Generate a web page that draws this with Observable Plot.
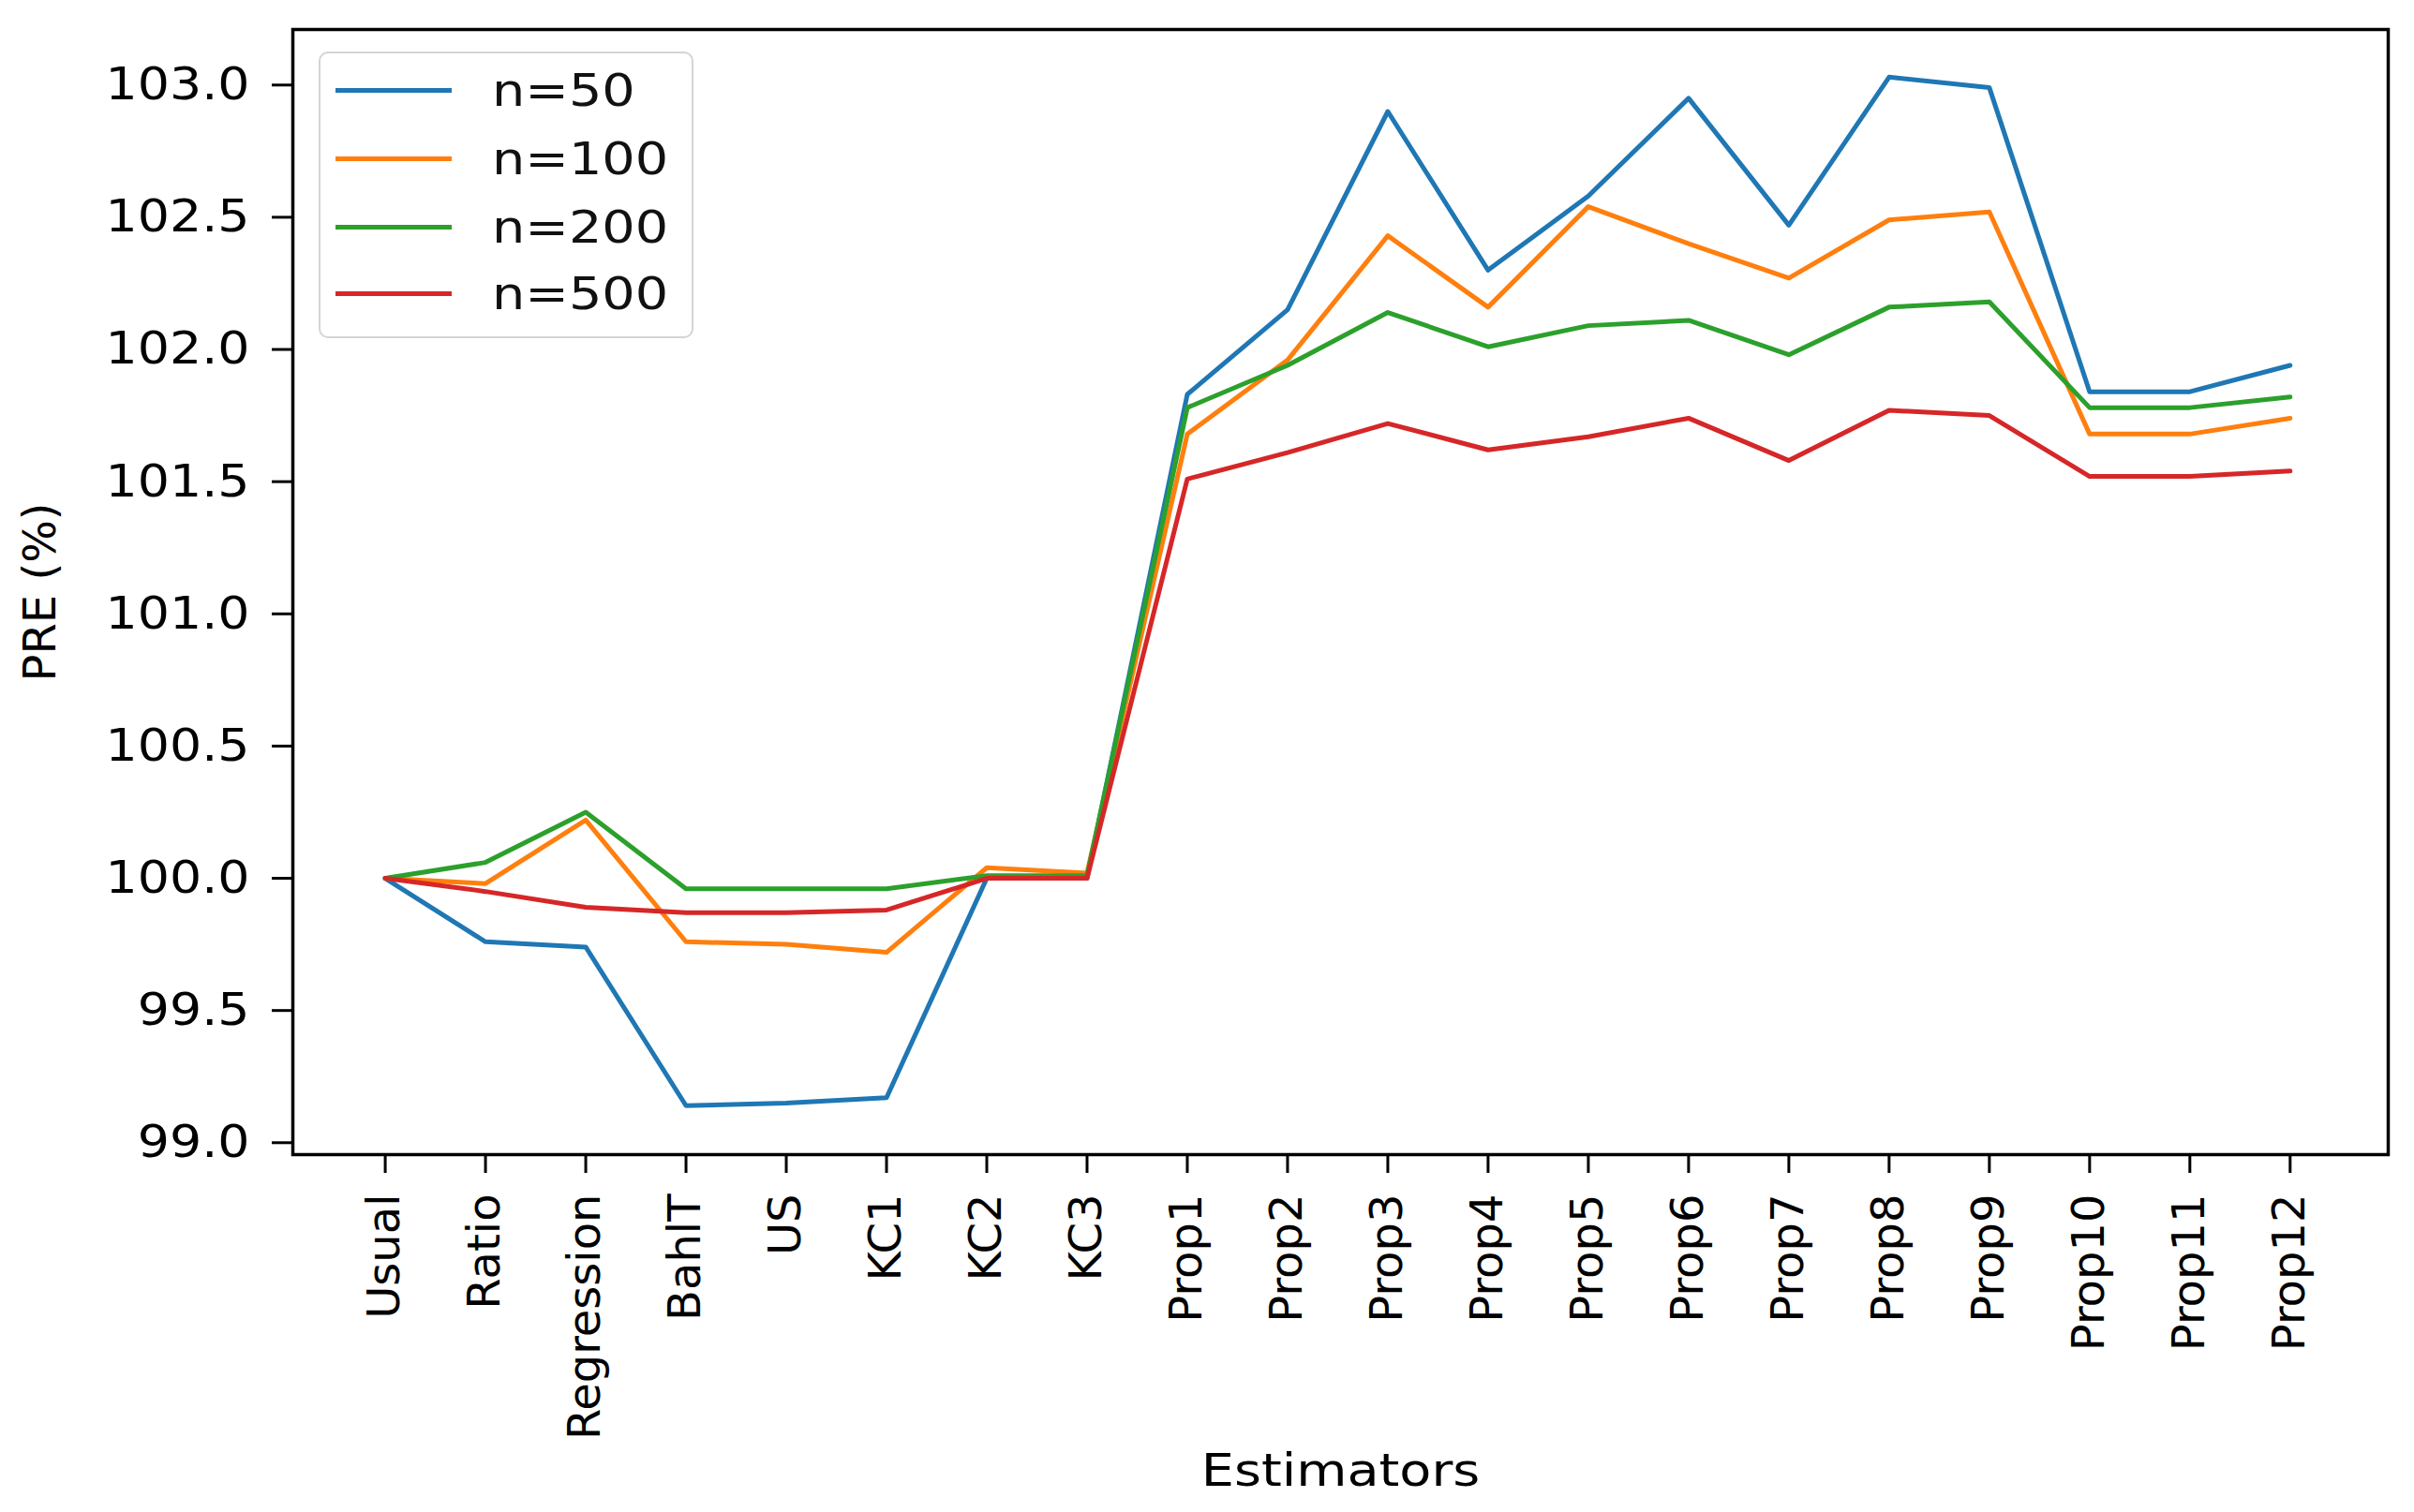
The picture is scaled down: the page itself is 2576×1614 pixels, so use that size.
<!DOCTYPE html>
<html>
<head>
<meta charset="utf-8">
<script src="https://cdn.jsdelivr.net/npm/d3@7"></script>
<script src="https://cdn.jsdelivr.net/npm/@observablehq/plot@0.6"></script>
<style>
  html, body { margin: 0; padding: 0; background: white; }
  #wrap { position: relative; width: 2576px; height: 1614px; }
  #legend {
    position: absolute; left: 340px; top: 55px; width: 396px; height: 302px;
    border: 2.5px solid #d4d4d4; border-radius: 10px; background: rgba(255,255,255,0.8);
    font-family: "DejaVu Sans", sans-serif; font-size: 48px; color: #111;
  }
  .sw { position: absolute; left: 16px; width: 124px; height: 5px; }
  .lab { position: absolute; left: 183px; white-space: nowrap; line-height: 60px;
         transform: scaleX(1.16); transform-origin: left center; }
</style>
</head>
<body>
<div id="wrap"><div id="legend"></div></div>
<script>
const estimators = ["Usual","Ratio","Regression","BahlT","US","KC1","KC2","KC3",
  "Prop1","Prop2","Prop3","Prop4","Prop5","Prop6","Prop7","Prop8","Prop9","Prop10","Prop11","Prop12"];
const seriesLabels = ["n=50","n=100","n=200","n=500"];
const seriesColors = ["#1f77b4","#ff7f0e","#2ca02c","#d62728"];
const n50  = [100.00, 99.76, 99.74, 99.14, 99.15, 99.17, 100.00, 100.00, 101.83, 102.15, 102.90, 102.30, 102.58, 102.95, 102.47, 103.03, 102.99, 101.84, 101.84, 101.94];
const n100 = [100.00, 99.98, 100.22, 99.76, 99.75, 99.72, 100.04, 100.02, 101.68, 101.96, 102.43, 102.16, 102.54, 102.40, 102.27, 102.49, 102.52, 101.68, 101.68, 101.74];
const n200 = [100.00, 100.06, 100.25, 99.96, 99.96, 99.96, 100.01, 100.01, 101.78, 101.94, 102.14, 102.01, 102.09, 102.11, 101.98, 102.16, 102.18, 101.78, 101.78, 101.82];
const n500 = [100.00, 99.95, 99.89, 99.87, 99.87, 99.88, 100.00, 100.00, 101.51, 101.61, 101.72, 101.62, 101.67, 101.74, 101.58, 101.77, 101.75, 101.52, 101.52, 101.54];
const yTicks = [99.0, 99.5, 100.0, 100.5, 101.0, 101.5, 102.0, 102.5, 103.0];

const allSeries = [n50, n100, n200, n500];
const rows = allSeries.flatMap((vals, s) =>
  estimators.map((e, i) => ({estimator: e, pre: vals[i], n: seriesLabels[s]})));

const chart = Plot.plot({
  width: 2576, height: 1614,
  marginLeft: 312, marginRight: 28, marginTop: 31, marginBottom: 382,
  style: {fontFamily: "DejaVu Sans, sans-serif", fontSize: "48px", background: "white", color: "black"},
  x: {type: "point", domain: estimators, padding: 0.95, align: 0.485, round: false, label: null},
  y: {domain: [98.955, 103.21], label: null},
  color: {domain: seriesLabels, range: seriesColors},
  marks: [
    Plot.line(rows, {x: "estimator", y: "pre", z: "n", stroke: "n", strokeWidth: 5}),
    Plot.frame({stroke: "black", strokeWidth: 3.5}),
    Plot.axisY({ticks: yTicks, tickFormat: d3.format(".1f"), tickSize: 22, tickPadding: 24,
      strokeWidth: 3, fontSize: 48, label: "PRE (%)", labelAnchor: "center", labelArrow: "none", labelOffset: 288}),
    Plot.axisX({tickSize: 20, tickPadding: 22, tickRotate: -90, strokeWidth: 3, fontSize: 48,
      label: "Estimators", labelAnchor: "center", labelArrow: "none", labelOffset: 353})
  ]
});
document.getElementById("wrap").prepend(chart);

// widen horizontal text slightly to match the reference's horizontally stretched glyphs
function stretch(selector, s, where) {
  chart.querySelectorAll(selector).forEach(t => {
    const b = t.getBBox();
    const ax = where === "end" ? b.x + b.width : b.x + b.width / 2;
    const prev = t.getAttribute("transform") || "";
    t.setAttribute("transform", `${prev} translate(${ax},0) scale(${s},1) translate(${-ax},0)`);
  });
}
stretch('g[aria-label="y-axis tick label"] text', 1.12, "end");
stretch('g[aria-label="x-axis label"] text', 1.16, "middle");

const legend = document.getElementById("legend");
const rowTops = [39, 112, 185, 256];
seriesLabels.forEach((lab, i) => {
  const sw = document.createElement("div");
  sw.className = "sw";
  sw.style.top = (rowTops[i] - 2.5) + "px";
  sw.style.background = seriesColors[i];
  legend.appendChild(sw);
  const t = document.createElement("div");
  t.className = "lab";
  t.style.top = (rowTops[i] - 30) + "px";
  t.textContent = lab;
  legend.appendChild(t);
});
</script>
</body>
</html>
